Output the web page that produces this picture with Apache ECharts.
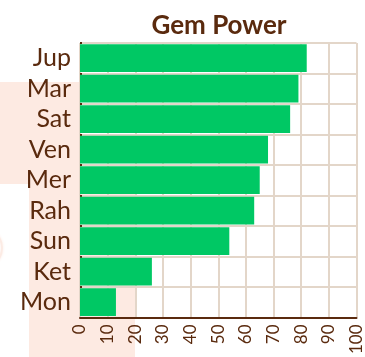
<!DOCTYPE html>
<html>
<head>
<meta charset="utf-8">
<script src="https://cdn.jsdelivr.net/npm/echarts@6/dist/echarts.min.js"></script>
<style>
  html, body { margin: 0; padding: 0; background: #ffffff; }
  #chart { width: 365px; height: 357px; }
</style>
</head>
<body>
<div id="chart"></div>
<script>
// Planet gems and their power scores (top to bottom)
const planets = ['Jup', 'Mar', 'Sat', 'Ven', 'Mer', 'Rah', 'Sun', 'Ket', 'Mon'];
const power = [82, 79, 76, 68, 65, 63, 54, 26, 13];
const powerTicks = [0, 10, 20, 30, 40, 50, 60, 70, 80, 90, 100];

const brown = '#5a2a0e';
const gridTan = '#e3d6c9';
const blush = '#fdeae2';
const fontFam = 'Lato, "DejaVu Sans", sans-serif';

const chart = echarts.init(document.getElementById('chart'), null, { renderer: 'canvas' });

chart.setOption({
  backgroundColor: '#ffffff',
  animation: false,
  title: {
    text: 'Gem Power',
    left: 214,
    textAlign: 'center',
    top: 8,
    textStyle: { color: brown, fontSize: 26, fontWeight: 'bold', fontFamily: fontFam }
  },
  graphic: [
    { type: 'rect', z: -10, silent: true, shape: { x: 0, y: 82, width: 80, height: 102 }, style: { fill: blush } },
    { type: 'rect', z: -10, silent: true, shape: { x: 29, y: 184, width: 106, height: 173 }, style: { fill: blush } },
    { type: 'circle', z: -10, silent: true, shape: { cx: -18, cy: 248, r: 20 },
      style: { fill: 'none', stroke: '#fcebe4', lineWidth: 2, shadowBlur: 3, shadowColor: '#fcebe4' } }
  ],
  grid: { left: 80, right: 7, top: 43, bottom: 39, containLabel: false },
  xAxis: {
    type: 'value',
    min: powerTicks[0],
    max: powerTicks[powerTicks.length - 1],
    interval: 10,
    axisLine: { show: true, lineStyle: { color: brown, width: 2 } },
    axisTick: { show: false },
    axisLabel: {
      rotate: 90, color: brown, fontSize: 17, fontFamily: fontFam, margin: 7,
      formatter: v => String(v)
    },
    splitLine: { show: true, lineStyle: { color: gridTan, width: 2 } }
  },
  yAxis: {
    type: 'category',
    data: planets,
    inverse: true,
    axisLine: { show: false },
    axisTick: { show: true, length: 2, inside: true, lineStyle: { color: brown, width: 2 } },
    axisLabel: { interval: 0, color: brown, fontSize: 25, fontFamily: fontFam, margin: 9 },
    splitLine: { show: true, lineStyle: { color: gridTan, width: 2 } }
  },
  series: [{
    type: 'bar',
    data: power,
    barCategoryGap: '9%',
    itemStyle: { color: '#00c864' }
  }]
});
</script>
</body>
</html>
